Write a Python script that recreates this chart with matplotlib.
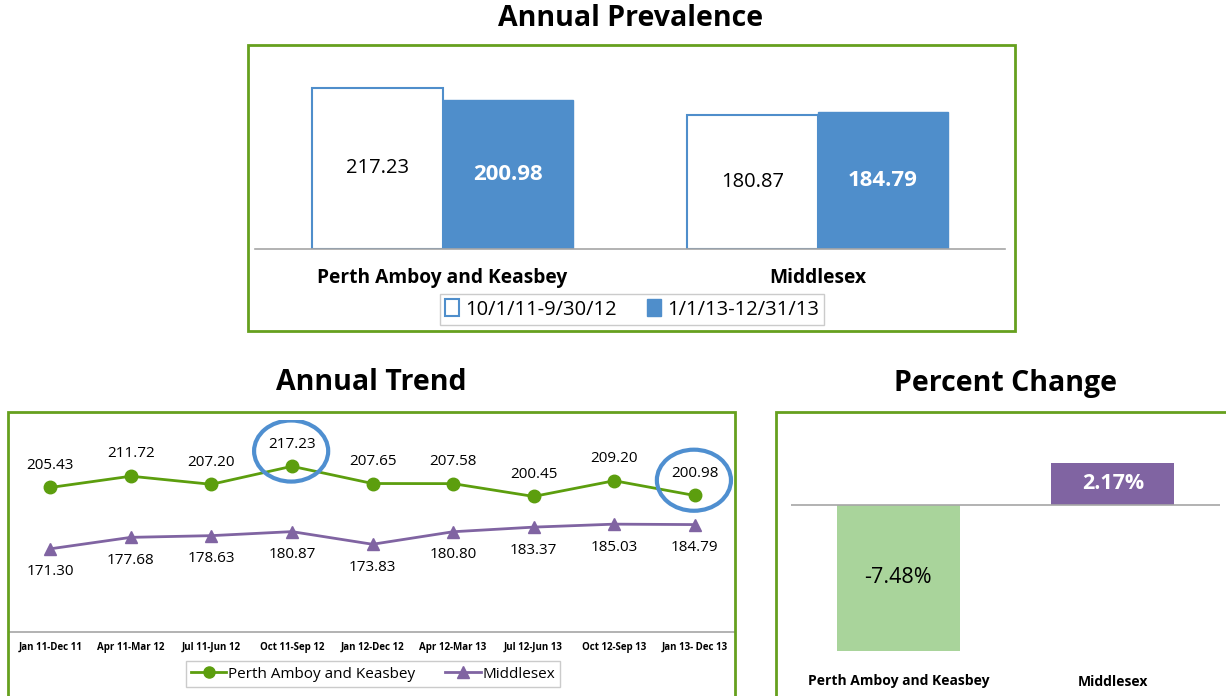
import matplotlib
matplotlib.use("Agg")
import matplotlib.pyplot as plt
from matplotlib.patches import Rectangle, Ellipse
from matplotlib.lines import Line2D
from matplotlib.patches import Patch

plt.rcParams['font.family'] = ['Open Sans', 'DejaVu Sans']

# ---- data ----
prev_groups = ["Perth Amboy and Keasbey", "Middlesex"]
prev_period1 = [217.23, 180.87]
prev_period2 = [200.98, 184.79]
prev_legend = ["10/1/11-9/30/12", "1/1/13-12/31/13"]

trend_labels = ["Jan 11-Dec 11", "Apr 11-Mar 12", "Jul 11-Jun 12", "Oct 11-Sep 12",
                "Jan 12-Dec 12", "Apr 12-Mar 13", "Jul 12-Jun 13", "Oct 12-Sep 13",
                "Jan 13- Dec 13"]
trend_perth = [205.43, 211.72, 207.20, 217.23, 207.65, 207.58, 200.45, 209.20, 200.98]
trend_middlesex = [171.30, 177.68, 178.63, 180.87, 173.83, 180.80, 183.37, 185.03, 184.79]
trend_series = ["Perth Amboy and Keasbey", "Middlesex"]
highlight_idx = [3, 8]

pct_groups = ["Perth Amboy and Keasbey", "Middlesex"]
pct_values = [-7.48, 2.17]

W, H = 1226, 696
fig = plt.figure(figsize=(W / 100, H / 100), dpi=100)

def fx(x): return x / W
def fy(y): return 1 - y / H
def axrect(x0, y0, x1, y1):
    return [fx(x0), fy(y1), fx(x1) - fx(x0), fy(y0) - fy(y1)]

GREEN_BORDER = '#66A01E'
BLUE = '#4F8ECB'
LGREEN = '#5C9E0E'
PURPLE = '#8064A2'
GRAY = '#A6A6A6'

# panel borders
for (x0, y0, x1, y1) in [(248, 45, 1015, 331), (8, 412, 735, 705), (776, 412, 1235, 705)]:
    fig.patches.append(Rectangle((fx(x0), fy(y1)), fx(x1) - fx(x0), fy(y0) - fy(y1),
                                 transform=fig.transFigure, fill=False,
                                 edgecolor=GREEN_BORDER, linewidth=2.0, zorder=0))

# titles
fig.text(fx(631), fy(19), "Annual Prevalence", ha='center', va='center', fontsize=20.5, fontweight='bold')
fig.text(fx(371), fy(383), "Annual Trend", ha='center', va='center', fontsize=20.5, fontweight='bold')
fig.text(fx(1005), fy(383), "Percent Change", ha='center', va='center', fontsize=20.5, fontweight='bold')

# ---- top: Annual Prevalence ----
ax1 = fig.add_axes(axrect(255, 56, 1005, 249))
x = list(range(len(prev_groups)))
bw = 0.347
ax1.bar([i - bw / 2 for i in x], prev_period1, width=bw, color='white',
        edgecolor=BLUE, linewidth=1.5, label=prev_legend[0])
ax1.bar([i + bw / 2 for i in x], prev_period2, width=bw, color=BLUE,
        edgecolor=BLUE, linewidth=1.0, label=prev_legend[1])
for i, v in enumerate(prev_period1):
    ax1.text(i - bw / 2, v / 2, f"{v:.2f}", ha='center', va='center', fontsize=14.5, color='black')
for i, v in enumerate(prev_period2):
    ax1.text(i + bw / 2, v / 2, f"{v:.2f}", ha='center', va='center', fontsize=16,
             color='white', fontweight='bold')
ax1.set_xlim(-0.5, 1.5)
ax1.set_ylim(0, 260.4)
ax1.set_xticks(x)
ax1.set_xticklabels(prev_groups, fontsize=13.8, fontweight='bold')
ax1.tick_params(axis='x', length=0, pad=14)
ax1.set_yticks([])
for s in ['top', 'left', 'right']:
    ax1.spines[s].set_visible(False)
ax1.spines['bottom'].set_color(GRAY)
ax1.spines['bottom'].set_linewidth(1.2)
ax1.patch.set_alpha(0)
fig.legend(handles=[Patch(facecolor='white', edgecolor=BLUE, linewidth=1.5, label=prev_legend[0]),
                    Patch(facecolor=BLUE, edgecolor=BLUE, label=prev_legend[1])],
           loc='center', bbox_to_anchor=(fx(632), fy(309.5)), ncol=2, fontsize=14.5,
           frameon=True, fancybox=False, edgecolor='#BFBFBF', handlelength=0.7,
           handleheight=0.9, handletextpad=0.3, columnspacing=1.5, borderpad=0.25,
           borderaxespad=0)

# ---- bottom-left: Annual Trend ----
ax2 = fig.add_axes(axrect(10, 420, 735, 632))
xs = list(range(len(trend_labels)))
ax2.plot(xs, trend_perth, color=LGREEN, linewidth=2.0, marker='o', markersize=9,
         label=trend_series[0])
ax2.plot(xs, trend_middlesex, color=PURPLE, linewidth=2.0, marker='^', markersize=9,
         label=trend_series[1])
for i, v in enumerate(trend_perth):
    ax2.annotate(f"{v:.2f}", (i, v), xytext=(0, 16), textcoords='offset points',
                 ha='center', va='center', fontsize=11)
for i, v in enumerate(trend_middlesex):
    ax2.annotate(f"{v:.2f}", (i, v), xytext=(0, -16.5), textcoords='offset points',
                 ha='center', va='center', fontsize=11)
for i in highlight_idx:
    ax2.add_patch(Ellipse((i - 0.01, trend_perth[i] + 8.5), 0.92, 34, fill=False,
                          edgecolor='#4F8FD0', linewidth=3.0, zorder=5))
ax2.set_xlim(-0.5, 8.5)
ax2.set_ylim(125, 243)
ax2.set_xticks(xs)
ax2.set_xticklabels(trend_labels, fontsize=7, fontweight='bold')
ax2.tick_params(axis='x', length=0, pad=7)
ax2.set_yticks([])
for s in ['top', 'left', 'right']:
    ax2.spines[s].set_visible(False)
ax2.spines['bottom'].set_color(GRAY)
ax2.spines['bottom'].set_linewidth(1.2)
ax2.patch.set_alpha(0)
fig.legend(handles=[Line2D([], [], color=LGREEN, marker='o', markersize=8, linewidth=2, label=trend_series[0]),
                    Line2D([], [], color=PURPLE, marker='^', markersize=8, linewidth=2, label=trend_series[1])],
           loc='center', bbox_to_anchor=(fx(373), fy(674)), ncol=2, fontsize=11,
           frameon=True, fancybox=False, edgecolor='#BFBFBF', handlelength=2.3,
           handletextpad=0.1, columnspacing=2.0, borderpad=0.35, borderaxespad=0)

# ---- bottom-right: Percent Change ----
ax3 = fig.add_axes(axrect(791, 420, 1220, 662))
px = list(range(len(pct_groups)))
pcolors = ['#A9D49B', PURPLE]
ax3.bar(px, pct_values, width=0.575, color=pcolors)
ax3.axhline(0, color=GRAY, linewidth=1.2)
ax3.text(0, pct_values[0] / 2, f"{pct_values[0]:.2f}%", ha='center', va='center', fontsize=15.5, color='black')
ax3.text(1, pct_values[1] / 2, f"{pct_values[1]:.2f}%", ha='center', va='center', fontsize=15.5,
         color='white', fontweight='bold')
ax3.set_xlim(-0.5, 1.5)
ax3.set_ylim(-8.05, 4.36)
ax3.set_xticks(px)
ax3.set_xticklabels(pct_groups, fontsize=10, fontweight='bold')
ax3.tick_params(axis='x', length=0, pad=9)
ax3.set_yticks([])
for s in ax3.spines.values():
    s.set_visible(False)
ax3.patch.set_alpha(0)

fig.savefig("out.png", dpi=100)
